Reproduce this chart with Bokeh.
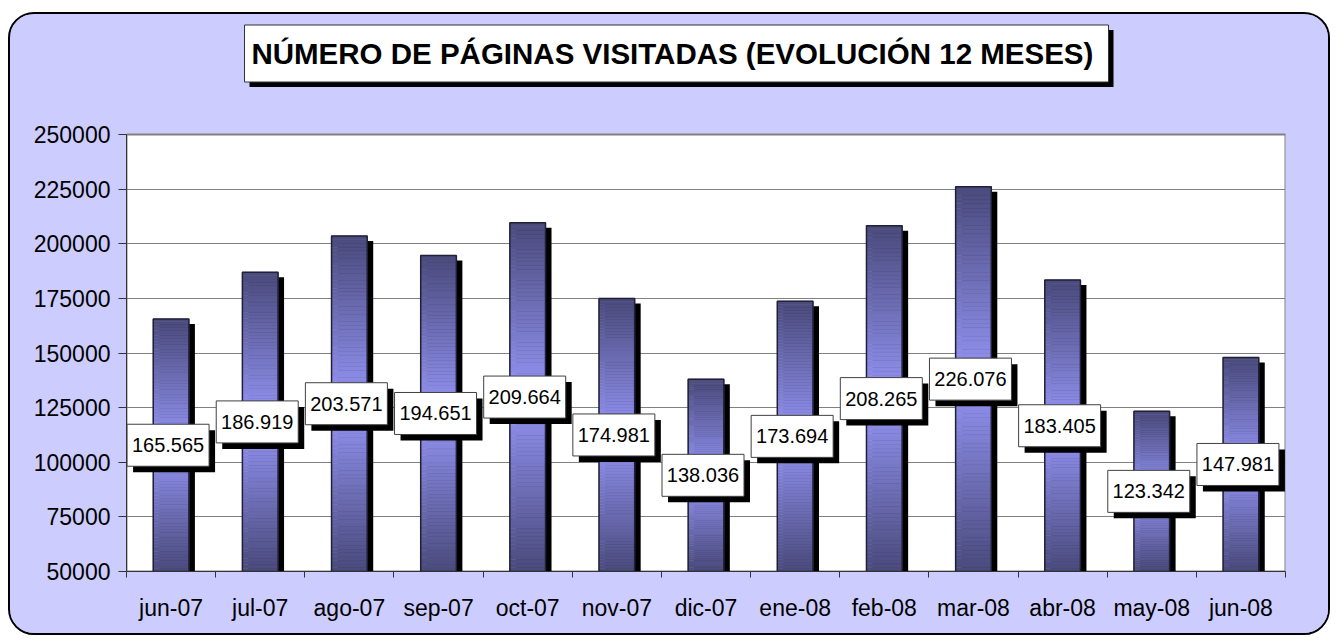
import numpy as np
from bokeh.plotting import figure
from bokeh.models import FixedTicker, ColumnDataSource, NumeralTickFormatter, Range1d
from bokeh.embed import file_html
from bokeh.resources import INLINE
from bokeh.core.properties import value

# ---------------- data ----------------
months = ["jun-07", "jul-07", "ago-07", "sep-07", "oct-07", "nov-07", "dic-07",
          "ene-08", "feb-08", "mar-08", "abr-08", "may-08", "jun-08"]
visits = [165565, 186919, 203571, 194651, 209664, 174981, 138036,
          173694, 208265, 226076, 183405, 123342, 147981]
y_ticks = [50000, 75000, 100000, 125000, 150000, 175000, 200000, 225000, 250000]
title_text = "NÚMERO DE PÁGINAS VISITADAS  (EVOLUCIÓN 12 MESES)"

# ---------------- layout ----------------
W, H = 1322, 623
ML, MR, MB = 116, 47, 66
PLOT_TOP = 120          # px from canvas top to the 250000 line
FRAME_TOP = 6           # frame extends above the plot area to hold the title
FW = W - ML - MR
PH = H - PLOT_TOP - MB  # plot-area height in px
n = len(months)
Y_MIN, Y_MAX = y_ticks[0], y_ticks[-1]
px_x = n / FW
px_y = (Y_MAX - Y_MIN) / PH
Y_TOP = Y_MAX + (PLOT_TOP - FRAME_TOP) * px_y
FONT = "Liberation Sans"
BG = "#CCCCFF"

xs = np.arange(n, dtype=float)
vals = np.array(visits, dtype=float)
bw = 0.40

p = figure(width=W, height=H, x_range=Range1d(-0.5, n - 0.5), y_range=Range1d(Y_MIN, Y_TOP),
           output_backend="svg", toolbar_location=None,
           min_border_left=ML, min_border_right=MR, min_border_top=FRAME_TOP, min_border_bottom=MB)
p.background_fill_color = BG
p.border_fill_color = BG
p.outline_line_color = None
p.styles = {"border": "2px solid #000", "border-radius": "26px", "overflow": "hidden",
            "margin-top": "12px", "margin-left": "8px", "background-color": BG}

# white plot area
p.quad(left=[-0.5], right=[n - 0.5], bottom=[Y_MIN], top=[Y_MAX],
       fill_color="white", line_color="#808080", line_width=2, level="underlay")

# grid
p.xgrid.visible = False
p.ygrid.ticker = FixedTicker(ticks=y_ticks)
p.ygrid.grid_line_color = "#808080"
p.ygrid.grid_line_width = 1

# x axis
p.xaxis.ticker = FixedTicker(ticks=list(range(n)), minor_ticks=[i - 0.5 for i in range(n + 1)])
p.xaxis.major_label_overrides = {i: m for i, m in enumerate(months)}
p.xaxis.major_tick_line_color = None
p.xaxis.minor_tick_out = 6
p.xaxis.minor_tick_in = 0
p.xaxis.minor_tick_line_color = "#333333"
p.xaxis.axis_line_color = "#333333"
p.xaxis.major_label_standoff = 17
p.xaxis.major_label_text_font = FONT
p.xaxis.major_label_text_font_size = "23px"
p.xaxis.major_label_text_color = "black"

# y axis
p.yaxis.ticker = FixedTicker(ticks=y_ticks)
p.yaxis.bounds = (Y_MIN, Y_MAX)
p.yaxis.formatter = NumeralTickFormatter(format="0")
p.yaxis.minor_tick_line_color = None
p.yaxis.major_tick_out = 8
p.yaxis.major_tick_in = 0
p.yaxis.major_tick_line_color = "#333333"
p.yaxis.axis_line_color = "#333333"
p.yaxis.major_label_standoff = 8
p.yaxis.major_label_text_font = FONT
p.yaxis.major_label_text_font_size = "23px"
p.yaxis.major_label_text_color = "black"

# ---------------- bars ----------------
p.vbar(x=xs + 6 * px_x, top=vals - 5 * px_y, bottom=Y_MIN, width=bw,
       fill_color="black", line_color=None)

dark = np.array([74, 74, 124])
light = np.array([150, 150, 248])
N = 90
sx, sb, st, sc = [], [], [], []
for x, v in zip(xs, vals):
    edges = np.linspace(Y_MIN, v, N + 1)
    for k in range(N):
        t = (k + 0.5) / N
        d = abs(t - 0.5) * 2
        c = light + (dark - light) * d
        sx.append(x)
        sb.append(edges[k])
        st.append(edges[k + 1])
        sc.append("#%02x%02x%02x" % tuple(int(round(q)) for q in c))
src = ColumnDataSource(dict(x=sx, bottom=sb, top=st, color=sc))
p.vbar(x="x", bottom="bottom", top="top", width=bw, source=src,
       fill_color="color", line_color="color", line_width=0.6)
p.vbar(x=xs, top=vals, bottom=Y_MIN, width=bw, fill_color=None,
       line_color="#202038", line_width=1.5)

# ---------------- value labels ----------------
mids = (vals + Y_MIN) / 2
lab_x = xs - 3 * px_x
texts = [f"{int(v):,}".replace(",", ".") for v in visits]
p.rect(x=lab_x + 6 * px_x, y=mids - 6 * px_y, width=82, height=42,
       width_units="screen", height_units="screen", fill_color="black", line_color=None)
p.rect(x=lab_x, y=mids, width=82, height=42, width_units="screen", height_units="screen",
       fill_color="white", line_color="#404040", line_width=1)
p.text(x=lab_x, y=mids, text=texts, text_align="center", text_baseline="middle",
       text_font=value(FONT), text_font_size="20px", text_color="black")

# ---------------- title box ----------------
tx = -0.5 + 550 * px_x
ty = Y_MAX + 81 * px_y
p.rect(x=[tx + 5 * px_x], y=[ty - 5 * px_y], width=864, height=57,
       width_units="screen", height_units="screen", fill_color="black", line_color=None)
p.rect(x=[tx], y=[ty], width=864, height=57, width_units="screen", height_units="screen",
       fill_color="white", line_color="#333333", line_width=1)
p.text(x=[tx], y=[ty], text=[title_text], text_align="center", text_baseline="middle",
       text_font=value(FONT), text_font_size="29.5px", text_font_style="bold", text_color="black")

open("out.html", "w").write(file_html(p, INLINE))
